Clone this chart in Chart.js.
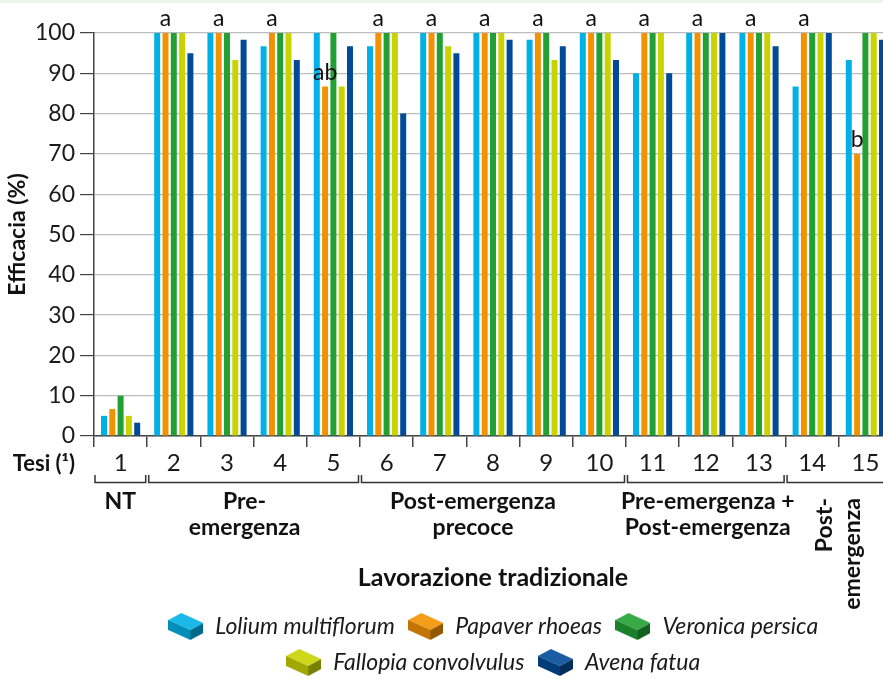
<!DOCTYPE html>
<html>
<head>
<meta charset="utf-8">
<script src="https://cdn.jsdelivr.net/npm/chart.js@4.4.1/dist/chart.umd.min.js"></script>
<style>
  html, body { margin: 0; padding: 0; overflow: hidden; background: #fff; }
  #wrap {
    position: relative;
    width: 892px;
    height: 684px;
    background: linear-gradient(#edf5ea 0, #edf5ea 3px, #fff 3px);
  }
</style>
</head>
<body>
<div id="wrap"><canvas id="chart"></canvas></div>
<script>
// Tesi (treatments)
const tesi = ['1', '2', '3', '4', '5', '6', '7', '8', '9', '10', '11', '12', '13', '14', '15'];

// Efficacia (%) per species
const lolium   = [5,   100, 100,  96.7, 100,  96.7, 100,  100,  98.3, 100,  90,  100, 100,  86.7, 93.3];
const papaver  = [6.7, 100, 100,  100,  86.7, 100,  100,  100,  100,  100,  100, 100, 100,  100,  70];
const veronica = [10,  100, 100,  100,  100,  100,  100,  100,  100,  100,  100, 100, 100,  100,  100];
const fallopia = [5,   100, 93.3, 100,  86.7, 100,  96.7, 100,  93.3, 100,  100, 100, 100,  100,  100];
const avena    = [3.3, 95,  98.3, 93.3, 96.7, 80,   95,   98.3, 96.7, 93.3, 90,  100, 96.7, 100,  98.3];

// significance letters (placed over Papaver rhoeas bars)
const papaverLetters = ['', 'a', 'a', 'a', 'ab', 'a', 'a', 'a', 'a', 'a', 'a', 'a', 'a', 'a', 'b'];

const speciesNames = ['Lolium multiflorum', 'Papaver rhoeas', 'Veronica persica', 'Fallopia convolvulus', 'Avena fatua'];
const speciesColors = ['#00b1e7', '#f39200', '#22a034', '#c9d300', '#004b98'];

// treatment groups (first / last index)
const groupLabels = [['NT'], ['Pre-', 'emergenza'], ['Post-emergenza', 'precoce'], ['Pre-emergenza +', 'Post-emergenza'], ['Post-', 'emergenza']];
const groupFrom = [0, 1, 5, 10, 13];
const groupTo   = [0, 4, 9, 12, 14];

const FONT = 'Lato, "Open Sans", sans-serif';
const labelShift = [0, -9, -20, 2, 0];

// small 3D box used as legend marker
function shade(hex, f) {
  const n = parseInt(hex.slice(1), 16);
  let r = (n >> 16) & 255, g = (n >> 8) & 255, b = n & 255;
  const m = c => Math.max(0, Math.min(255, Math.round(f > 1 ? c + (255 - c) * (f - 1) : c * f)));
  return 'rgb(' + m(r) + ',' + m(g) + ',' + m(b) + ')';
}
function boxIcon(color) {
  const c = document.createElement('canvas');
  c.width = 35; c.height = 27;
  const g = c.getContext('2d');
  g.fillStyle = shade(color, 1.1);
  g.beginPath(); g.moveTo(0, 7); g.lineTo(13, 0); g.lineTo(35, 10); g.lineTo(22, 17); g.closePath(); g.fill();
  g.fillStyle = shade(color, 0.8);
  g.beginPath(); g.moveTo(0, 7); g.lineTo(22, 17); g.lineTo(22, 27); g.lineTo(0, 17); g.closePath(); g.fill();
  g.fillStyle = shade(color, 0.6);
  g.beginPath(); g.moveTo(22, 17); g.lineTo(35, 10); g.lineTo(35, 20); g.lineTo(22, 27); g.closePath(); g.fill();
  return c;
}
const icons = speciesColors.map(boxIcon);

const seriesData = [lolium, papaver, veronica, fallopia, avena];

// group brackets, labels and letters
const annotations = {
  id: 'annotations',
  afterDraw(chart) {
    const ctx = chart.ctx;
    const xs = chart.scales.x;
    const cw = (xs.right - xs.left) / tesi.length;
    const base = xs.top;
    ctx.save();

    // letters over papaver bars
    const meta = chart.getDatasetMeta(1);
    ctx.fillStyle = '#111';
    ctx.font = '23px ' + FONT;
    ctx.textAlign = 'center';
    ctx.textBaseline = 'alphabetic';
    papaverLetters.forEach((t, i) => {
      if (!t) return;
      const bar = meta.data[i];
      ctx.fillText(t, bar.x, bar.y - 7);
    });

    // Tesi label
    ctx.font = 'bold 22px ' + FONT;
    ctx.textAlign = 'right';
    ctx.textBaseline = 'middle';
    ctx.fillText('Tesi (\u00b9)', 75, base + 28);

    // brackets
    ctx.strokeStyle = '#333';
    ctx.lineWidth = 1.5;
    groupFrom.forEach((f, gi) => {
      const x0 = xs.left + f * cw + (f ? 1.5 : 1);
      const x1 = xs.left + (groupTo[gi] + 1) * cw - 1.5;
      ctx.beginPath();
      ctx.moveTo(x0, base + 39);
      ctx.lineTo(x0, base + 46.5);
      ctx.lineTo(x1, base + 46.5);
      ctx.lineTo(x1, base + 39);
      ctx.stroke();

      const cx = (x0 + x1) / 2 + labelShift[gi];
      const lines = groupLabels[gi];
      ctx.font = 'bold 23px ' + FONT;
      if (gi === groupFrom.length - 1) {
        lines.forEach((t, li) => {
          ctx.save();
          ctx.translate(cx - 14 + li * 28, base + 62);
          ctx.rotate(-Math.PI / 2);
          ctx.textAlign = 'right';
          ctx.textBaseline = 'middle';
          ctx.fillText(t, 0, 0);
          ctx.restore();
        });
      } else {
        ctx.textAlign = 'center';
        ctx.textBaseline = 'middle';
        lines.forEach((t, li) => ctx.fillText(t, cx, base + 66 + li * 26));
      }
    });

    ctx.font = 'bold 25px ' + FONT;
    ctx.textAlign = 'center';
    ctx.textBaseline = 'middle';
    ctx.fillText('Lavorazione tradizionale', (xs.left + xs.right) / 2, base + 142);
    ctx.restore();
  }
};

new Chart(document.getElementById('chart'), {
  type: 'bar',
  data: {
    labels: tesi,
    datasets: speciesNames.map((name, i) => ({
      label: name,
      data: seriesData[i],
      backgroundColor: speciesColors[i],
      borderWidth: 0,
      categoryPercentage: 0.78,
      barPercentage: 0.72
    }))
  },
  options: {
    responsive: true,
    maintainAspectRatio: false,
    animation: false,
    layout: { padding: { top: 33, right: 0, bottom: 0, left: 0 } },
    scales: {
      x: {
        afterFit: (scale) => { scale.height = 166; },
        grid: {
          display: true,
          offset: true,
          drawOnChartArea: false,
          drawTicks: true,
          tickLength: 11,
          tickColor: '#444',
          lineWidth: 1.5
        },
        border: { color: '#444', width: 1.5 },
        ticks: { color: '#1a1a1a', font: { family: FONT, size: 24 }, padding: 2 }
      },
      y: {
        min: 0,
        max: 100,
        afterFit: (scale) => { scale.width = 94; },
        ticks: { stepSize: 10, color: '#1a1a1a', font: { family: FONT, size: 23 }, padding: 5 },
        grid: { color: '#bdbdbd', lineWidth: 1.2, tickLength: 14, tickColor: '#444' },
        border: { color: '#444', width: 1.5 },
        title: {
          display: true,
          text: 'Efficacia (%)',
          color: '#111',
          font: { family: FONT, size: 23, weight: 'bold' },
          padding: { top: 4, bottom: 0 }
        }
      }
    },
    plugins: {
      tooltip: { enabled: false },
      legend: {
        position: 'bottom',
        fullSize: false,
        labels: {
          usePointStyle: true,
          pointStyleWidth: 36,
          padding: 13,
          color: '#1a1a1a',
          font: { family: FONT, size: 23, style: 'italic' },
          generateLabels: (chart) => {
            const items = Chart.defaults.plugins.legend.labels.generateLabels(chart);
            items.forEach((it, i) => { it.pointStyle = icons[i]; });
            return items;
          }
        }
      }
    }
  },
  plugins: [annotations]
});
</script>
</body>
</html>
